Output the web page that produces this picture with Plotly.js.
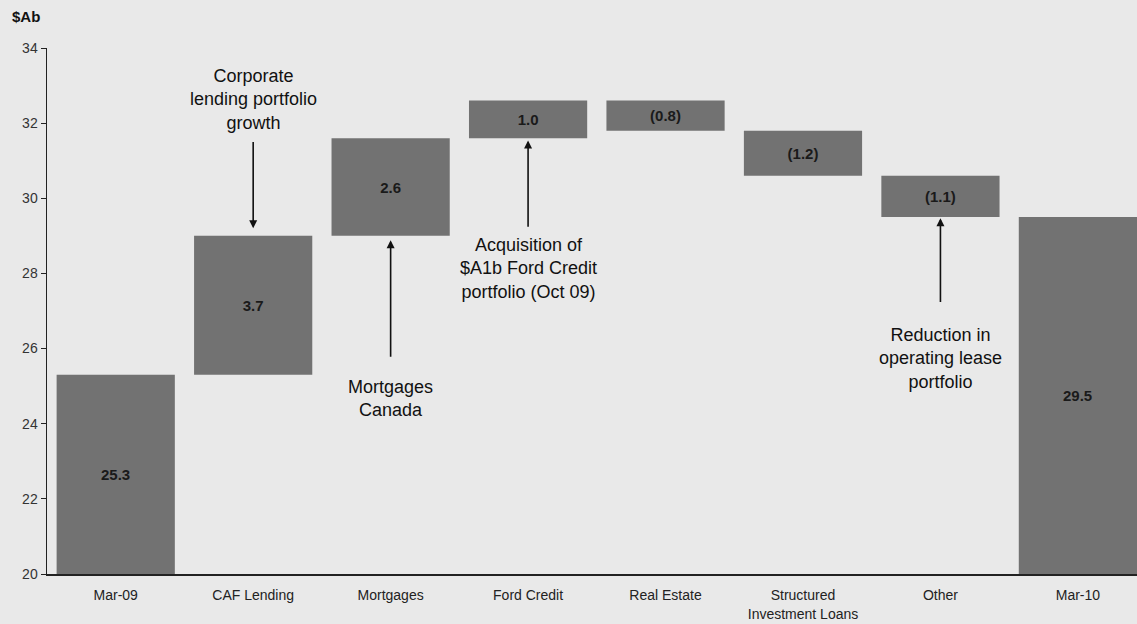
<!DOCTYPE html>
<html>
<head>
<meta charset="utf-8">
<script src="https://cdn.plot.ly/plotly-3.0.1.min.js"></script>
<style>html,body{margin:0;padding:0;background:#e9e9e9;}#chart{width:1137px;height:624px;}</style>
</head>
<body>
<div id="chart"></div>
<script>
const categories = ["Mar-09", "CAF Lending", "Mortgages", "Ford Credit", "Real Estate", "Structured<br>Investment Loans", "Other", "Mar-10"];
const measures = ["absolute", "relative", "relative", "relative", "relative", "relative", "relative", "total"];
const values = [25.3, 3.7, 2.6, 1.0, -0.8, -1.2, -1.1, 0];
const labels = ["25.3", "3.7", "2.6", "1.0", "(0.8)", "(1.2)", "(1.1)", "29.5"];
const totalValues = [25.3, null, null, null, null, null, null, 29.5];
const yTicks = [20, 22, 24, 26, 28, 30, 32, 34];
const yMin = 20, yMax = 34;

const notes = [
  {text: "Corporate<br>lending portfolio<br>growth", cat: 1, ty: 32.63, head: 29.2, tail: 31.54},
  {text: "Mortgages<br>Canada", cat: 2, ty: 24.68, head: 28.88, tail: 25.74},
  {text: "Acquisition of<br>$A1b Ford Credit<br>portfolio (Oct 09)", cat: 3, ty: 28.14, head: 31.54, tail: 29.2},
  {text: "Reduction in<br>operating lease<br>portfolio", cat: 6, ty: 25.74, head: 29.47, tail: 27.2}
];

const FONT = "Liberation Sans, Arial, sans-serif";
const barColor = "#727272";
// inside labels for floating bars; totals get labels centred on their visible part
const barText = labels.map((t, i) => totalValues[i] === null ? t : "");
const trace = {
  type: "waterfall",
  x: categories.map((c, i) => i),
  y: values,
  measure: measures,
  text: barText,
  textposition: "inside",
  insidetextanchor: "middle",
  textangle: 0,
  constraintext: "none",
  textfont: {family: FONT, size: 15, color: "#1a1a1a"},
  texttemplate: "<b>%{text}</b>",
  width: 0.86,
  connector: {visible: false},
  increasing: {marker: {color: barColor}},
  decreasing: {marker: {color: barColor}},
  totals: {marker: {color: barColor}},
  hoverinfo: "skip"
};

const annotations = [];
totalValues.forEach((v, i) => {
  if (v === null) return;
  annotations.push({
    xref: "x", yref: "y", x: i, y: (yMin + v) / 2, text: "<b>" + labels[i] + "</b>",
    showarrow: false, xanchor: "center", yanchor: "middle",
    font: {family: FONT, size: 15, color: "#1a1a1a"}
  });
});
notes.forEach(n => {
  annotations.push({
    xref: "x", yref: "y", x: n.cat, y: n.ty, text: n.text, showarrow: false,
    xanchor: "center", yanchor: "middle",
    font: {family: FONT, size: 18, color: "#111"}
  });
  annotations.push({
    xref: "x", yref: "y", axref: "x", ayref: "y",
    x: n.cat, y: n.head, ax: n.cat, ay: n.tail, text: "",
    showarrow: true, arrowhead: 2, arrowsize: 1, arrowwidth: 1.6, arrowcolor: "#111"
  });
});
annotations.push({
  xref: "paper", yref: "paper", x: -0.034, y: 1.06, xanchor: "left", yanchor: "middle",
  text: "<b>$Ab</b>", showarrow: false,
  font: {family: FONT, size: 15, color: "#111"}
});

const layout = {
  width: 1137, height: 624,
  margin: {l: 47, r: 0, t: 48, b: 50},
  paper_bgcolor: "#e9e9e9", plot_bgcolor: "#e9e9e9",
  showlegend: false,
  font: {family: FONT, color: "#222"},
  xaxis: {
    range: [-0.5, 7.43], tickmode: "array", tickvals: categories.map((c, i) => i), ticktext: categories,
    showgrid: false, zeroline: false, showline: true, linecolor: "#222", linewidth: 1.5,
    ticks: "", ticklabelstandoff: 8, tickfont: {size: 14, color: "#222"}, fixedrange: true
  },
  yaxis: {
    range: [yMin, yMax], tickvals: yTicks, showgrid: false, zeroline: false,
    showline: true, linecolor: "#222", linewidth: 1.5, ticks: "outside", ticklen: 5, tickcolor: "#222",
    tickfont: {size: 14, color: "#333"}, fixedrange: true
  },
  annotations: annotations
};

Plotly.newPlot("chart", [trace], layout, {displayModeBar: false, staticPlot: true});
</script>
</body>
</html>
